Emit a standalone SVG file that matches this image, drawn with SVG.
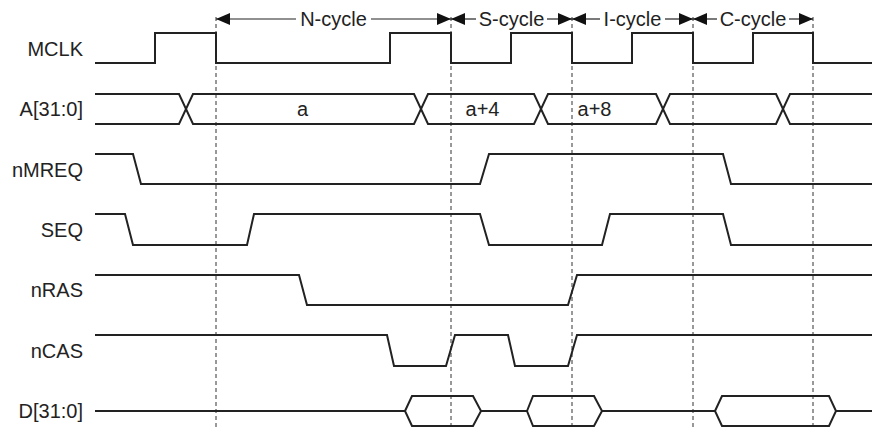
<svg xmlns="http://www.w3.org/2000/svg" width="872" height="428" viewBox="0 0 872 428">
<style>
.lbl{font-family:"Liberation Sans",Arial,sans-serif;font-size:20px;fill:#222;text-anchor:end}
.val{font-family:"Liberation Sans",Arial,sans-serif;font-size:20px;fill:#222;text-anchor:middle}
.sig{fill:none;stroke:#222;stroke-width:2;stroke-linejoin:miter}
.grid{fill:none;stroke:#333;stroke-width:1;stroke-dasharray:4,3}
.dim{fill:none;stroke:#222;stroke-width:1.2}
</style>
<defs>
<marker id="ah" viewBox="0 0 14 12" refX="14" refY="6" markerWidth="14" markerHeight="12" markerUnits="userSpaceOnUse" orient="auto-start-reverse">
<path d="M0,0 L14,6 L0,12 Z" fill="#111"/>
</marker>
</defs>
<rect width="872" height="428" fill="#fff"/>

<g id="connectors">
<g id="gridlines">
<line class="grid" x1="216" y1="17" x2="216" y2="428"/>
<line class="grid" x1="451" y1="17" x2="451" y2="428"/>
<line class="grid" x1="572" y1="17" x2="572" y2="428"/>
<line class="grid" x1="693" y1="17" x2="693" y2="428"/>
<line class="grid" x1="813" y1="17" x2="813" y2="428"/>
</g>
<g id="cycles">
<line class="dim" x1="216" y1="19" x2="296" y2="19" marker-start="url(#ah)"/>
<line class="dim" x1="371" y1="19" x2="451" y2="19" marker-end="url(#ah)"/>
<text class="val" x="333.5" y="26">N-cycle</text>
<line class="dim" x1="451" y1="19" x2="476" y2="19" marker-start="url(#ah)"/>
<line class="dim" x1="547" y1="19" x2="572" y2="19" marker-end="url(#ah)"/>
<text class="val" x="511.5" y="26">S-cycle</text>
<line class="dim" x1="572" y1="19" x2="600" y2="19" marker-start="url(#ah)"/>
<line class="dim" x1="665" y1="19" x2="693" y2="19" marker-end="url(#ah)"/>
<text class="val" x="632.5" y="26">I-cycle</text>
<line class="dim" x1="693" y1="19" x2="717" y2="19" marker-start="url(#ah)"/>
<line class="dim" x1="789" y1="19" x2="813" y2="19" marker-end="url(#ah)"/>
<text class="val" x="753" y="26">C-cycle</text>
</g>
</g>

<g id="MCLK">
<text class="lbl" x="83" y="55.5">MCLK</text>
<path class="sig" d="M95,63 H155 V33 H216 V63 H390 V33 H451 V63 H511 V33 H572 V63 H632 V33 H693 V63 H753 V33 H813 V63 H872"/>
</g>

<g id="A">
<text class="lbl" x="83" y="115.5">A[31:0]</text>
<path class="sig" d="M95,94 H179 L193,124 H414 L428,94 H534 L548,124 H656 L670,94 H776 L790,124 H872"/>
<path class="sig" d="M95,124 H179 L193,94 H414 L428,124 H534 L548,94 H656 L670,124 H776 L790,94 H872"/>
<text class="val" x="302.5" y="115.5">a</text>
<text class="val" x="482.5" y="115.5">a+4</text>
<text class="val" x="594.5" y="115.5">a+8</text>
</g>

<g id="nMREQ">
<text class="lbl" x="83" y="176.5">nMREQ</text>
<path class="sig" d="M95,154 H133 L141,184 H480 L489,154 H723 L731,184 H872"/>
</g>

<g id="SEQ">
<text class="lbl" x="83" y="236.5">SEQ</text>
<path class="sig" d="M95,214 H125 L133,245 H247 L254,214 H480 L489,245 H602 L610,214 H723 L731,245 H872"/>
</g>

<g id="nRAS">
<text class="lbl" x="83" y="296.5">nRAS</text>
<path class="sig" d="M95,275 H299 L307,305 H568 L577,275 H872"/>
</g>

<g id="nCAS">
<text class="lbl" x="83" y="357.5">nCAS</text>
<path class="sig" d="M95,335 H387 L394,366 H446 L455,335 H508 L515,366 H568 L577,335 H872"/>
</g>

<g id="D">
<text class="lbl" x="83" y="417.5">D[31:0]</text>
<path class="sig" d="M95,411 H405 M481,411 H527 M602,411 H715 M836,411 H872"/>
<path class="sig" d="M405,411 L412,396 H473 L481,411 L473,426 H412 Z"/>
<path class="sig" d="M527,411 L533,396 H594 L602,411 L594,426 H533 Z"/>
<path class="sig" d="M715,411 L722,396 H829 L836,411 L829,426 H722 Z"/>
</g>
</svg>
